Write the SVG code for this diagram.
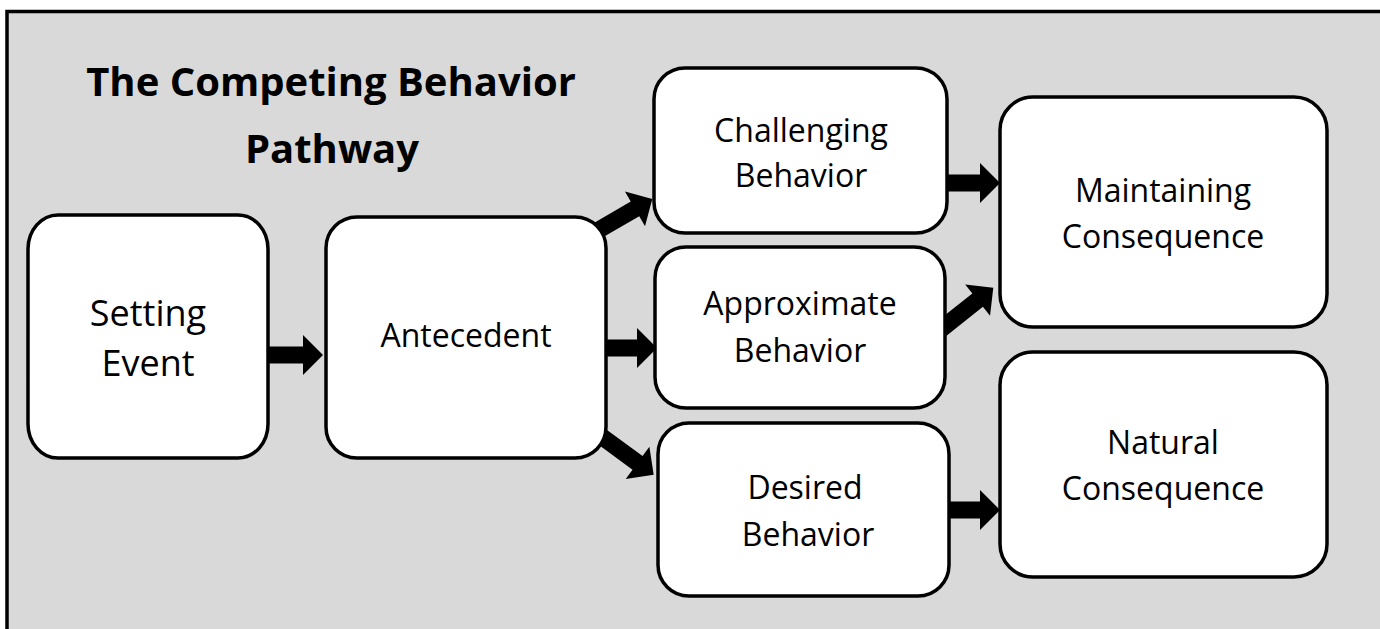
<svg xmlns="http://www.w3.org/2000/svg" width="1380" height="629" viewBox="0 0 1380 629">
<style>
.box{fill:#ffffff;stroke:#000000;stroke-width:3.5}
.lbl{font-family:"Open Sans","Liberation Sans",sans-serif;font-size:32px;fill:#000000;text-anchor:middle}
.big{font-size:36px}
.title{font-family:"Open Sans","Liberation Sans",sans-serif;font-size:40px;font-weight:bold;fill:#000000;text-anchor:middle}
.arr{fill:#000000}
</style>
<rect x="7" y="11.5" width="1420" height="680" fill="#d9d9d9" stroke="#000000" stroke-width="3.5"/>
<g id="title">
<text class="title" x="331" y="96">The Competing Behavior</text>
<text class="title" x="332" y="163">Pathway</text>
</g>
<g id="connectors">
<path class="arr" d="M0,-8.5 H41 V-20 L61,0 L41,20 V8.5 H0 Z" transform="translate(262,355)"/>
<path class="arr" d="M0,-8.5 H37 V-20 L57,0 L37,20 V8.5 H0 Z" transform="translate(600,348)"/>
<path class="arr" d="M0,-8.5 H40 V-20 L60,0 L40,20 V8.5 H0 Z" transform="translate(940,183)"/>
<path class="arr" d="M0,-8.5 H40 V-20 L60,0 L40,20 V8.5 H0 Z" transform="translate(940,510)"/>
<path class="arr" d="M0,-8.5 H52 V-20 L72,0 L52,20 V8.5 H0 Z" transform="translate(590,235) rotate(-30.1)"/>
<path class="arr" d="M0,-8.5 H48 V-20 L68,0 L48,20 V8.5 H0 Z" transform="translate(940,330) rotate(-38.4)"/>
<path class="arr" d="M0,-8.5 H59 V-20 L79,0 L59,20 V8.5 H0 Z" transform="translate(590,428) rotate(36.3)"/>
</g>
<g id="setting-event">
<rect class="box" x="28" y="215" width="240" height="243" rx="30" ry="34"/>
<text class="lbl big" x="148" y="326">Setting</text>
<text class="lbl big" x="148" y="376">Event</text>
</g>
<g id="antecedent">
<rect class="box" x="326" y="217" width="280" height="241" rx="31" ry="31"/>
<text class="lbl" x="466" y="347">Antecedent</text>
</g>
<g id="challenging-behavior">
<rect class="box" x="654" y="68" width="293" height="165" rx="31" ry="31"/>
<text class="lbl" x="801" y="142">Challenging</text>
<text class="lbl" x="801" y="187">Behavior</text>
</g>
<g id="approximate-behavior">
<rect class="box" x="655" y="247" width="290" height="161" rx="31" ry="31"/>
<text class="lbl" x="800" y="315">Approximate</text>
<text class="lbl" x="800" y="362">Behavior</text>
</g>
<g id="desired-behavior">
<rect class="box" x="658" y="423" width="291" height="173" rx="31" ry="31"/>
<text class="lbl" x="805" y="499">Desired</text>
<text class="lbl" x="808" y="546">Behavior</text>
</g>
<g id="maintaining-consequence">
<rect class="box" x="1000" y="97" width="327" height="230" rx="33" ry="33"/>
<text class="lbl" x="1163" y="202">Maintaining</text>
<text class="lbl" x="1163" y="248">Consequence</text>
</g>
<g id="natural-consequence">
<rect class="box" x="1000" y="352" width="327" height="225" rx="33" ry="33"/>
<text class="lbl" x="1163" y="454">Natural</text>
<text class="lbl" x="1163" y="500">Consequence</text>
</g>
</svg>
